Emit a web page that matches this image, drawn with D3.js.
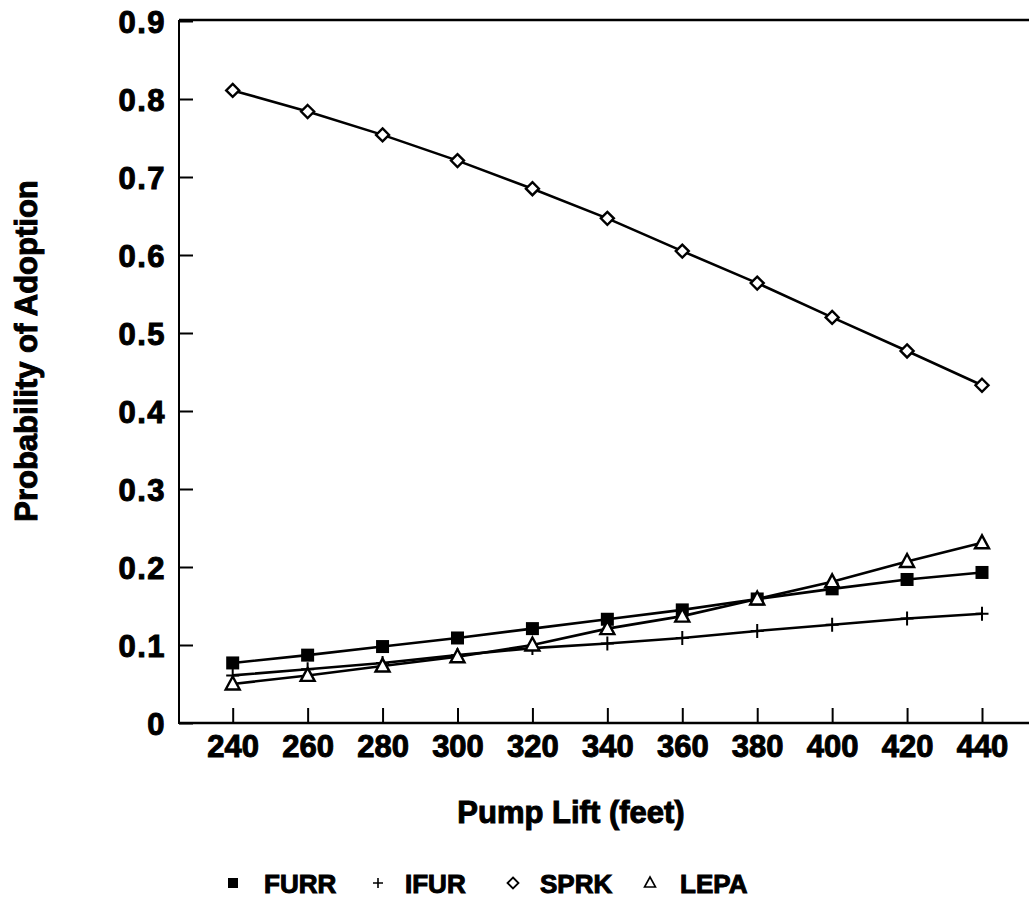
<!DOCTYPE html>
<html>
<head>
<meta charset="utf-8">
<script src="https://cdn.jsdelivr.net/npm/d3@7"></script>
<style>
  html, body { margin: 0; padding: 0; background: #fff; }
  svg { display: block; }
  text { font-family: "Liberation Sans", Arial, Helvetica, sans-serif; font-weight: bold; fill: #000; stroke: #000; stroke-width: 1px; }
</style>
</head>
<body>
<svg id="chart" width="1029" height="909"></svg>
<script>
// ---- data ----
const pumpLift = [240, 260, 280, 300, 320, 340, 360, 380, 400, 420, 440];
const furr = [0.077, 0.087, 0.098, 0.109, 0.121, 0.133, 0.145, 0.159, 0.172, 0.184, 0.193];
const ifur = [0.061, 0.069, 0.077, 0.087, 0.096, 0.102, 0.109, 0.118, 0.126, 0.134, 0.140];
const sprk = [0.811, 0.784, 0.754, 0.721, 0.685, 0.647, 0.605, 0.564, 0.520, 0.477, 0.433];
const lepa = [0.050, 0.061, 0.073, 0.085, 0.100, 0.121, 0.137, 0.159, 0.181, 0.207, 0.231];
const yTicks = [0, 0.1, 0.2, 0.3, 0.4, 0.5, 0.6, 0.7, 0.8, 0.9];
const yTickLabels = ["0", "0.1", "0.2", "0.3", "0.4", "0.5", "0.6", "0.7", "0.8", "0.9"];
const xTicks = [240, 260, 280, 300, 320, 340, 360, 380, 400, 420, 440];
const seriesNames = ["FURR", "IFUR", "SPRK", "LEPA"];
const xTitle = "Pump Lift (feet)";
const yTitle = "Probability of Adoption";

const series = [
  { name: seriesNames[0], values: furr, marker: "square" },
  { name: seriesNames[1], values: ifur, marker: "plus" },
  { name: seriesNames[2], values: sprk, marker: "diamond" },
  { name: seriesNames[3], values: lepa, marker: "triangle" }
];

const svg = d3.select("#chart");
const axisLeft = 179, axisRight = 1029, axisBottom = 723, axisTop = 21;

const x = d3.scaleLinear().domain([240, 440]).range([232.7, 982]);
const y = d3.scaleLinear().domain([0, 0.9]).range([axisBottom, axisTop]);

// frame: left, top lines
svg.append("line").attr("x1", axisLeft).attr("x2", axisLeft).attr("y1", axisTop - 1).attr("y2", axisBottom + 1)
  .attr("stroke", "#000").attr("stroke-width", 2);
svg.append("line").attr("x1", axisLeft).attr("x2", axisRight).attr("y1", axisTop - 1).attr("y2", axisTop - 1)
  .attr("stroke", "#000").attr("stroke-width", 2.5);

// y axis
const yAxis = d3.axisRight(y).tickValues(yTicks).tickSize(14).tickFormat("");
const gy = svg.append("g").attr("transform", `translate(${axisLeft},0)`).call(yAxis);
gy.select(".domain").remove();
gy.selectAll(".tick line").attr("stroke", "#000").attr("stroke-width", 2);
gy.selectAll(".tick").append("text")
  .attr("x", -13).attr("dy", "0.36em").attr("text-anchor", "end")
  .style("font-size", "31px").style("letter-spacing", "1.5px")
  .text((d, i) => yTickLabels[i]);

// x axis
const xAxis = d3.axisTop(x).tickValues(xTicks).tickSize(15).tickFormat("");
const gx = svg.append("g").attr("transform", `translate(0,${axisBottom})`).call(xAxis);
gx.select(".domain").remove();
gx.selectAll(".tick line").attr("stroke", "#000").attr("stroke-width", 2);
gx.selectAll(".tick").append("text")
  .attr("y", 34).attr("text-anchor", "middle")
  .style("font-size", "31px")
  .text(d => d);
svg.append("line").attr("x1", axisLeft).attr("x2", axisRight).attr("y1", axisBottom).attr("y2", axisBottom)
  .attr("stroke", "#000").attr("stroke-width", 2.5);

// titles
svg.append("text").attr("x", 571).attr("y", 823).attr("text-anchor", "middle")
  .style("font-size", "31px").text(xTitle);
svg.append("text").attr("transform", "translate(37,351) rotate(-90)").attr("text-anchor", "middle")
  .style("font-size", "31px").text(yTitle);

// markers
function drawMarker(g, type, cx, cy) {
  if (type === "square") {
    g.append("rect").attr("x", cx - 6.5).attr("y", cy - 6.5).attr("width", 13).attr("height", 13).attr("fill", "#000");
  } else if (type === "plus") {
    g.append("path").attr("d", `M${cx - 6.5},${cy}H${cx + 6.5}M${cx},${cy - 7}V${cy + 7}`)
      .attr("stroke", "#000").attr("stroke-width", 2).attr("fill", "none");
  } else if (type === "diamond") {
    g.append("path").attr("d", `M${cx},${cy - 6.5}L${cx + 6.5},${cy}L${cx},${cy + 6.5}L${cx - 6.5},${cy}Z`)
      .attr("stroke", "#000").attr("stroke-width", 2.4).attr("fill", "#fff");
  } else if (type === "triangle") {
    g.append("path").attr("d", `M${cx},${cy - 7.5}L${cx + 7},${cy + 5.5}L${cx - 7},${cy + 5.5}Z`)
      .attr("stroke", "#000").attr("stroke-width", 2.4).attr("fill", "#fff");
  }
}

const line = d3.line().x((d, i) => x(pumpLift[i])).y(d => y(d));
const plot = svg.append("g");
series.forEach(s => {
  plot.append("path").datum(s.values).attr("d", line)
    .attr("fill", "none").attr("stroke", "#000").attr("stroke-width", 2.6);
});
series.forEach(s => {
  const g = plot.append("g");
  s.values.forEach((v, i) => drawMarker(g, s.marker, x(pumpLift[i]), y(v)));
});

// legend
const legendItems = [
  { marker: "square", mx: 233, tx: 264 },
  { marker: "plus", mx: 378, tx: 405 },
  { marker: "diamond", mx: 513, tx: 540 },
  { marker: "triangle", mx: 650, tx: 680 }
];
const lg = svg.append("g");
legendItems.forEach((it, i) => {
  const g = lg.append("g");
  if (it.marker === "square") {
    g.append("rect").attr("x", it.mx - 5).attr("y", 878).attr("width", 10).attr("height", 10).attr("fill", "#000");
  } else if (it.marker === "plus") {
    g.append("path").attr("d", `M${it.mx - 5},883H${it.mx + 5}M${it.mx},878V888`).attr("stroke", "#000").attr("stroke-width", 1.6);
  } else if (it.marker === "diamond") {
    g.append("path").attr("d", `M${it.mx},877.5L${it.mx + 5.5},883L${it.mx},888.5L${it.mx - 5.5},883Z`)
      .attr("stroke", "#000").attr("stroke-width", 1.8).attr("fill", "#fff");
  } else {
    g.append("path").attr("d", `M${it.mx},877L${it.mx + 5.5},887L${it.mx - 5.5},887Z`)
      .attr("stroke", "#000").attr("stroke-width", 1.6).attr("fill", "#fff");
  }
  g.append("text").attr("x", it.tx).attr("y", 893).style("font-size", "26px").text(seriesNames[i]);
});
</script>
</body>
</html>
